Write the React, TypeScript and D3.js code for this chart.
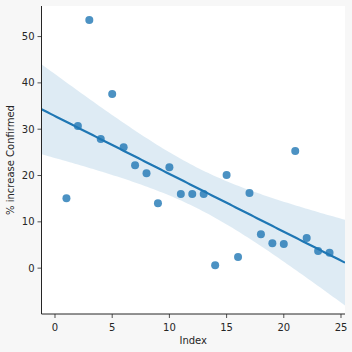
import * as d3 from 'd3';

// Index values and % increase in confirmed cases
const indexValues = [1, 2, 3, 4, 5, 6, 7, 8, 9, 10, 11, 12, 13, 14, 15, 16, 17, 18, 19, 20, 21, 22, 23, 24];
const pctIncrease = [15.1, 30.7, 53.6, 27.9, 37.6, 26.1, 22.2, 20.5, 14.0, 21.8, 16.0, 16.0, 16.0, 0.6, 20.1, 2.4, 16.2, 7.3, 5.4, 5.2, 25.3, 6.5, 3.7, 3.3];
const xTicks = [0, 5, 10, 15, 20, 25];
const yTicks = [0, 10, 20, 30, 40, 50];

const W = 352;
const H = 352;
const margin = { left: 41.5, right: 7, top: 6, bottom: 38 };
const C0 = '#1f77b4';
const FONT = 'DejaVu Sans, sans-serif';

export default function App() {
  const x = d3.scaleLinear().domain([-1.18, 25.35]).range([margin.left, W - margin.right]);
  const y = d3.scaleLinear().domain([-9.9, 56.6]).range([H - margin.bottom, margin.top]);

  // least squares fit; band widened a bit to look like seaborn's bootstrap CI
  const n = indexValues.length;
  const mx = d3.mean(indexValues) as number;
  const my = d3.mean(pctIncrease) as number;
  const sxx = d3.sum(indexValues, v => (v - mx) ** 2);
  const sxy = d3.sum(indexValues, (v, i) => (v - mx) * (pctIncrease[i] - my));
  const slope = sxy / sxx;
  const icpt = my - slope * mx;
  const sse = d3.sum(indexValues, (v, i) => (pctIncrease[i] - (icpt + slope * v)) ** 2);
  const s = Math.sqrt(sse / (n - 2));
  const t = 2.35;

  const [x0, x1] = x.domain();
  const grid = d3.range(0, 101).map(k => x0 + (k / 100) * (x1 - x0));
  const band = grid.map(gx => {
    const fit = icpt + slope * gx;
    const hw = t * s * Math.sqrt(1 / n + (gx - mx) ** 2 / sxx);
    return { gx, lo: fit - hw, hi: fit + hw, fit };
  });

  const area = d3.area<typeof band[0]>()
    .x(d => x(d.gx))
    .y0(d => y(d.lo))
    .y1(d => y(d.hi));
  const line = d3.line<typeof band[0]>()
    .x(d => x(d.gx))
    .y(d => y(d.fit));

  const plotW = W - margin.left - margin.right;
  const plotH = H - margin.top - margin.bottom;
  const bottom = H - margin.bottom;

  return (
    <svg width={W} height={H} style={{ position: 'absolute', left: 0, top: 0, fontFamily: FONT }}>
      <rect x={0} y={0} width={W} height={H} fill="#f7f7f7" />
      <rect x={margin.left} y={margin.top} width={plotW} height={plotH} fill="#ffffff" />
      <defs>
        <clipPath id="plot-clip">
          <rect x={margin.left} y={margin.top} width={plotW} height={plotH} />
        </clipPath>
      </defs>
      <g clipPath="url(#plot-clip)">
        <path d={area(band) ?? ''} fill={C0} fillOpacity={0.15} />
        {indexValues.map((v, i) => (
          <circle key={i} cx={x(v)} cy={y(pctIncrease[i])} r={4} fill={C0} fillOpacity={0.8} />
        ))}
        <path d={line(band) ?? ''} fill="none" stroke={C0} strokeWidth={2.2} />
      </g>

      {/* axes */}
      <line x1={margin.left} x2={margin.left} y1={margin.top} y2={bottom} stroke="#262626" strokeWidth={1} />
      <line x1={margin.left} x2={W - margin.right} y1={bottom} y2={bottom} stroke="#262626" strokeWidth={1} />

      {xTicks.map(tk => (
        <g key={tk} transform={`translate(${x(tk)},${bottom})`}>
          <line y1={0} y2={4} stroke="#262626" strokeWidth={0.8} />
          <text y={17} textAnchor="middle" fontSize={10} fill="#262626">{tk}</text>
        </g>
      ))}
      {yTicks.map(tk => (
        <g key={tk} transform={`translate(${margin.left},${y(tk)})`}>
          <line x1={0} x2={-4} stroke="#262626" strokeWidth={0.8} />
          <text x={-7} dy="0.35em" textAnchor="end" fontSize={10} fill="#262626">{tk}</text>
        </g>
      ))}

      <text x={margin.left + plotW / 2} y={344} textAnchor="middle" fontSize={10} fill="#262626">Index</text>
      <text transform={`translate(14,${margin.top + plotH / 2}) rotate(-90)`} textAnchor="middle" fontSize={10} fill="#262626">% increase Confirmed</text>
    </svg>
  );
}
